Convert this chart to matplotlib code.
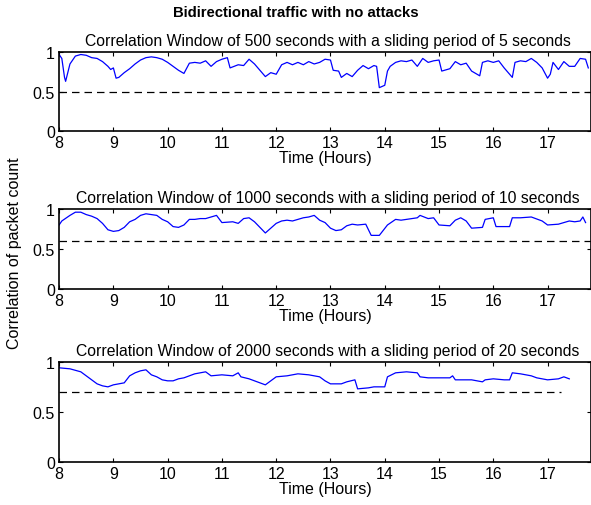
import numpy as np
import matplotlib
matplotlib.use("Agg")
import matplotlib.pyplot as plt

plt.rcParams['font.family'] = ['Liberation Sans', 'DejaVu Sans']
plt.rcParams['font.size'] = 11.5

# 500 s window, 5 s slide
t1 = [8.0, 8.05, 8.1, 8.12, 8.2, 8.3, 8.4, 8.5, 8.6, 8.7, 8.8, 8.9, 8.95, 9.0, 9.05, 9.1, 9.2, 9.3, 9.4, 9.5,
      9.6, 9.7, 9.8, 9.9, 10.0, 10.1, 10.2, 10.3, 10.4, 10.5, 10.6, 10.7, 10.8, 10.9, 11.0, 11.1, 11.15, 11.3,
      11.4, 11.5, 11.6, 11.7, 11.8, 11.9, 12.0, 12.1, 12.2, 12.3, 12.4, 12.5, 12.6, 12.7, 12.8, 12.9, 13.0,
      13.05, 13.15, 13.2, 13.3, 13.4, 13.5, 13.6, 13.7, 13.8, 13.85, 13.9, 14.0, 14.05, 14.1, 14.2, 14.3, 14.4,
      14.5, 14.6, 14.7, 14.8, 14.9, 15.0, 15.05, 15.2, 15.3, 15.4, 15.5, 15.6, 15.7, 15.75, 15.8, 15.9, 16.0,
      16.1, 16.2, 16.3, 16.35, 16.4, 16.5, 16.6, 16.7, 16.8, 16.9, 17.0, 17.05, 17.1, 17.2, 17.3, 17.4, 17.5,
      17.6, 17.7, 17.75]
c1 = [0.97, 0.92, 0.68, 0.63, 0.85, 0.95, 0.97, 0.96, 0.93, 0.92, 0.88, 0.82, 0.78, 0.80, 0.67, 0.68, 0.74,
      0.79, 0.85, 0.90, 0.93, 0.94, 0.93, 0.91, 0.87, 0.82, 0.77, 0.73, 0.86, 0.87, 0.86, 0.89, 0.82, 0.88,
      0.91, 0.93, 0.80, 0.84, 0.83, 0.91, 0.85, 0.77, 0.69, 0.74, 0.72, 0.84, 0.87, 0.84, 0.87, 0.84, 0.88,
      0.85, 0.87, 0.91, 0.90, 0.77, 0.76, 0.68, 0.73, 0.69, 0.77, 0.83, 0.79, 0.83, 0.82, 0.55, 0.58, 0.76,
      0.82, 0.87, 0.89, 0.88, 0.90, 0.82, 0.92, 0.87, 0.89, 0.90, 0.76, 0.79, 0.88, 0.84, 0.86, 0.76, 0.72,
      0.70, 0.87, 0.89, 0.87, 0.89, 0.80, 0.72, 0.68, 0.87, 0.89, 0.88, 0.92, 0.87, 0.80, 0.67, 0.72, 0.87,
      0.78, 0.88, 0.82, 0.82, 0.92, 0.91, 0.80]

# 1000 s window, 10 s slide
t2 = [8.0, 8.05, 8.2, 8.3, 8.4, 8.5, 8.6, 8.7, 8.8, 8.9, 9.0, 9.1, 9.2, 9.3, 9.4, 9.5, 9.6, 9.7, 9.8, 9.9,
      10.0, 10.1, 10.2, 10.3, 10.4, 10.5, 10.6, 10.7, 10.8, 10.9, 11.0, 11.2, 11.3, 11.4, 11.5, 11.6, 11.7,
      11.8, 11.9, 12.0, 12.1, 12.2, 12.3, 12.4, 12.5, 12.6, 12.7, 12.8, 12.9, 13.0, 13.1, 13.2, 13.3, 13.4,
      13.5, 13.65, 13.75, 13.9, 14.05, 14.2, 14.3, 14.5, 14.6, 14.65, 14.8, 14.9, 15.0, 15.2, 15.3, 15.4, 15.5,
      15.6, 15.8, 15.85, 16.0, 16.05, 16.3, 16.35, 16.5, 16.7, 16.9, 17.0, 17.2, 17.3, 17.4, 17.5, 17.6,
      17.65, 17.7]
c2 = [0.80, 0.85, 0.92, 0.96, 0.96, 0.93, 0.91, 0.88, 0.82, 0.74, 0.72, 0.73, 0.77, 0.84, 0.87, 0.92, 0.94,
      0.93, 0.92, 0.87, 0.84, 0.78, 0.77, 0.80, 0.87, 0.87, 0.88, 0.88, 0.90, 0.92, 0.83, 0.84, 0.82, 0.88,
      0.89, 0.84, 0.77, 0.70, 0.76, 0.82, 0.85, 0.86, 0.85, 0.87, 0.89, 0.90, 0.92, 0.86, 0.83, 0.76, 0.73,
      0.74, 0.79, 0.81, 0.80, 0.81, 0.67, 0.67, 0.80, 0.87, 0.86, 0.88, 0.89, 0.92, 0.88, 0.89, 0.80, 0.79,
      0.86, 0.89, 0.85, 0.76, 0.77, 0.87, 0.89, 0.78, 0.78, 0.89, 0.89, 0.90, 0.85, 0.80, 0.81, 0.83, 0.85,
      0.84, 0.85, 0.90, 0.83]

# 2000 s window, 20 s slide
t3 = [8.0, 8.2, 8.4, 8.5, 8.6, 8.7, 8.8, 8.9, 9.0, 9.1, 9.2, 9.3, 9.4, 9.5, 9.6, 9.7, 9.8, 9.9, 10.0, 10.1,
      10.2, 10.3, 10.4, 10.5, 10.6, 10.7, 10.8, 11.0, 11.2, 11.3, 11.35, 11.5, 11.6, 11.7, 11.8, 11.9, 12.0,
      12.2, 12.4, 12.6, 12.8, 12.9, 13.0, 13.2, 13.3, 13.45, 13.5, 13.7, 13.8, 14.0, 14.05, 14.2, 14.4, 14.6,
      14.65, 14.8, 15.0, 15.2, 15.25, 15.3, 15.6, 15.8, 15.85, 16.0, 16.2, 16.3, 16.35, 16.5, 16.7, 16.8,
      17.0, 17.2, 17.3, 17.4]
c3 = [0.94, 0.93, 0.90, 0.86, 0.82, 0.78, 0.76, 0.75, 0.77, 0.78, 0.79, 0.86, 0.89, 0.91, 0.92, 0.87, 0.85,
      0.82, 0.81, 0.81, 0.83, 0.84, 0.86, 0.88, 0.89, 0.90, 0.86, 0.87, 0.86, 0.89, 0.85, 0.83, 0.81, 0.79,
      0.77, 0.81, 0.85, 0.86, 0.88, 0.87, 0.85, 0.81, 0.78, 0.78, 0.80, 0.82, 0.73, 0.74, 0.75, 0.75, 0.85,
      0.89, 0.90, 0.89, 0.85, 0.84, 0.84, 0.84, 0.86, 0.82, 0.82, 0.80, 0.82, 0.83, 0.82, 0.82, 0.89, 0.88,
      0.86, 0.84, 0.82, 0.83, 0.85, 0.83]

panels = [
    (t1, c1, 0.5, 17.8, "Correlation Window of 500 seconds with a sliding period of 5 seconds", [0.100, 0.739, 0.90, 0.156]),
    (t2, c2, 0.6, 17.8, "Correlation Window of 1000 seconds with a sliding period of 10 seconds", [0.100, 0.427, 0.90, 0.158]),
    (t3, c3, 0.7, 17.25, "Correlation Window of 2000 seconds with a sliding period of 20 seconds", [0.100, 0.085, 0.90, 0.198]),
]

fig = plt.figure(figsize=(5.91, 5.06), dpi=100)
for t, c, thr, thr_end, title, rect in panels:
    ax = fig.add_axes(rect)
    ax.plot(t, c, color='blue', lw=0.9)
    ax.plot([8, thr_end], [thr, thr], 'k--', lw=0.9, dashes=(6, 4))
    ax.set_xlim(8, 17.8)
    ax.set_ylim(0, 1)
    ax.set_xticks(range(8, 18))
    ax.set_yticks([0, 0.5, 1])
    ax.set_yticklabels(['0', '0.5', '1'])
    ax.tick_params(direction='in', length=3, top=True, right=True, pad=3)
    for s in ax.spines.values():
        s.set_linewidth(1.2)
    ax.set_xlabel("Time (Hours)", labelpad=0)
    ax.set_title(title, pad=5, fontsize=11.3, x=0.505)

fig.text(0.5, 0.975, "Bidirectional traffic with no attacks", ha='center', va='center', fontweight='bold', fontsize=10.7)
fig.text(0.025, 0.5, "Correlation of packet count", rotation=90, ha='center', va='center')
fig.savefig("out.png", dpi=100)
